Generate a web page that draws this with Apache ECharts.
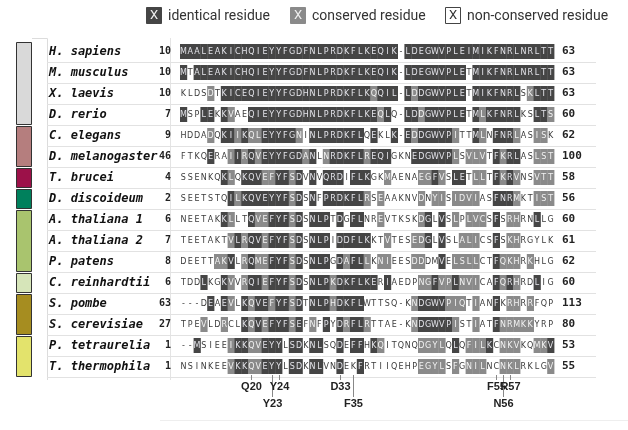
<!DOCTYPE html>
<html>
<head>
<meta charset="utf-8">
<script src="https://cdn.jsdelivr.net/npm/echarts@6/dist/echarts.min.js"></script>
<style>
  html, body { margin: 0; background: #fff; }
  #chart { width: 628px; height: 430px; }
</style>
</head>
<body>
<div id="chart"></div>
<script>
// alignment data (spaces every 10 residues are only for reading)
const species = ['H. sapiens', 'M. musculus', 'X. laevis', 'D. rerio', 'C. elegans', 'D. melanogaster',
  'T. brucei', 'D. discoideum', 'A. thaliana 1', 'A. thaliana 2', 'P. patens', 'C. reinhardtii',
  'S. pombe', 'S. cerevisiae', 'P. tetraurelia', 'T. thermophila']
const startNum = [10, 10, 10, 7, 9, 46, 4, 2, 6, 7, 8, 6, 63, 27, 1, 1]
const endNum = [63, 63, 63, 60, 62, 100, 58, 56, 60, 61, 62, 60, 113, 80, 53, 55]
const sequences = [
  'MAALEAKICH QIEYYFGDFN LPRDKFLKEQ IK-LDEGWVP LEIMIKFNRL NRLTT',
  'MTALEAKICH QIEYYFGDFN LPRDKFLKEQ IK-LDEGWVP LETMIKFNRL NRLTT',
  'KLDSDTKICE QIEYYFGDHN LPRDKFLKQQ IL-LDDGWVP LETMIKFNRL SKLTT',
  'MSPLEKKVAE QIEYYFGDHN LPRDKFLKEQ LQ-LDDGWVP LETMLKFNRL KSLTS',
  'HDDADQKIIK QLEYYFGNIN LPRDKFLQEK LK-EDDGWVP ITTMLNFNRL ASISK',
  'FTKQERAIIR QVEYYFGDAN LNRDKFLREQ IGKNEDGWVP LSVLVTFKRL ASLST',
  'SSENKQKLQK QVEFYFSDVN VQRDIFLKGK MAENAEGFVS LETLLTFKRV NSVTT',
  'SEETSTQILK QVEYYFSDSN FPRDKFLRSE AAKNVDNYIS IDVIASFNRM KTIST',
  'NEETAKKLLT QVEFYFSDSN LPTDGFLNRE VTKSKDGLVS LPLVCSFSRH RNLLG',
  'TEETAKTVLR QVEFYFSDSN LPIDDFLKKT VTESEDGLVS LALICSFSKH RGYLK',
  'DEETTAKVLR QMEFYFSDSN LPGDAFLLKN IEESDDDMVE LSLLCTFQKH RKHLG',
  'TDDLKGKVVR QIEFYFSDSN LPKDKFLKER IAEDPNGFVP LNVICAFQRH RDLIG',
  '---DEAEVLK QVEFYFSDTN LPHDKFLWTT SQ-KNDGWVP IQTIANFKRH RRFQP',
  'TPEVLDRCLK QVEFYFSEFN FPYDRFLRTT AE-KNDGWVP ISTIATFNRM KKYRP',
  '--MSIEEIKK QVEYYLSDKN LSQDEFFHKQ ITQNQDGYLQ LQFILKCNKV KQMKV',
  'NSINKEEVKK QVEYYLSDKN LVNDEKFRTI IQEHPEGYLS FGNILNCNKL RKLGV'
]
// 2 = identical, 1 = conserved, 0 = non-conserved
const shading = [
  '2222222222 2222222222 2222222222 2202222222 2222222222 22222',
  '2022222222 2222222222 2222222222 2202222222 2202222222 22222',
  '0000102222 2222222222 2222222212 2202122222 2202222222 01222',
  '2002202100 2222222222 2222222221 2002212222 2202122222 00221',
  '0000102212 1122222102 2222222020 0202122222 1002102221 00110',
  '0000200121 2122222212 0122222122 2000222222 1011102122 00111',
  '0000002102 2211221202 0222022200 1000011210 2201102121 00111',
  '0000000212 2222221202 0222222101 0000010110 1111002221 00111',
  '0000002100 2112221202 2202022001 0000012020 1011102011 00200',
  '0000000121 2212221202 2202222200 1000112020 0111002011 00000',
  '0000011201 2112221202 2202122101 1000110020 1111002111 01000',
  '0002002101 2212221202 2212222220 2000011211 2111002121 00200',
  '0000202102 1221221202 2212222000 0000122221 1101002011 01000',
  '0001001002 1212221201 0202122100 0000122222 1001002111 11000',
  '0020000122 1122202202 2002022021 0000011110 2011120111 00112',
  '0000000122 1122202202 2002002000 0000011110 1011100111 00001'
]
const groupRows = [[0, 3], [4, 5], [6, 6], [7, 7], [8, 10], [11, 11], [12, 13], [14, 15]]
const groupColors = ['#d9d9d9', '#b57e7e', '#9c1149', '#00805c', '#a9c46e', '#d6e5b9', '#a68d20', '#e3e36c']
const markerLabels = ['Q20', 'Y23', 'Y24', 'D33', 'F35', 'F55', 'N56', 'R57']
const markerCols = [10, 13, 14, 23, 25, 46, 47, 48]
const markerLevels = [0, 1, 0, 0, 1, 0, 1, 0]
const legendLabels = ['identical residue', 'conserved residue', 'non-conserved residue']
const legendX = [146, 290, 445]

const shadeFill = ['#fff', '#8a8a8a', '#454545']
const shadeText = ['#3a3a3a', '#f2f2f2', '#e4e4ea']

const nCols = sequences[0].replace(/ /g, '').length
const colIdx = Array.from({ length: nCols }, (_, i) => i)

const cells = []
sequences.forEach((seq, r) => {
  const s = seq.replace(/ /g, '')
  const sh = shading[r].replace(/ /g, '')
  for (let c = 0; c < s.length; c++) cells.push([c, r, +sh[c], s[c]])
})

// legend: a boxed X for each shading level
const legendGraphic = []
legendLabels.forEach((t, i) => {
  const lv = 2 - i
  const x = legendX[i]
  legendGraphic.push(
    { type: 'rect', shape: { x: x + 0.5, y: 7.5, width: 15, height: 16 }, style: { fill: shadeFill[lv], stroke: lv === 0 ? '#444' : shadeFill[lv], lineWidth: 1 } },
    { type: 'text', style: { x: x + 8, y: 16, text: 'X', align: 'center', verticalAlign: 'middle', fill: lv === 0 ? '#333' : '#f0f0f0', font: '13px Roboto' } },
    { type: 'text', style: { x: x + 22, y: 16, text: t, verticalAlign: 'middle', fill: '#333', font: '14px Roboto' } }
  )
})
// faint frame lines of the table
legendGraphic.push(
  { type: 'polyline', shape: { points: [[32, 38.5], [47.5, 38.5], [47.5, 380]] }, style: { stroke: '#dcdcdc', fill: null, lineWidth: 1 } },
  { type: 'line', shape: { x1: 170.5, y1: 38, x2: 170.5, y2: 380 }, style: { stroke: '#e4e4e4', lineWidth: 1 } },
  { type: 'line', shape: { x1: 160, y1: 420.5, x2: 628, y2: 420.5 }, style: { stroke: '#eeeeee', lineWidth: 1 } }
)

const chart = echarts.init(document.getElementById('chart'))

const option = {
  animation: false,
  graphic: legendGraphic,
  grid: [
    { left: 180, top: 41, width: 374, height: 336 },
    { left: 16, top: 41, width: 15, height: 336 }
  ],
  xAxis: [
    { type: 'category', data: colIdx, gridIndex: 0, show: false },
    { type: 'value', gridIndex: 1, min: 0, max: 1, show: false }
  ],
  yAxis: [
    {
      type: 'category', data: species, gridIndex: 0, inverse: true,
      axisLine: { show: false }, axisTick: { show: false },
      axisLabel: {
        margin: 9,
        formatter: (v, i) => `{n|${v}}{s|${startNum[i]}}`,
        rich: {
          n: { width: 110, align: 'left', fontFamily: 'DejaVu Sans Mono', fontWeight: 'bold', fontStyle: 'italic', fontSize: 12, color: '#111' },
          s: { width: 12, align: 'right', fontFamily: 'DejaVu Sans Mono', fontWeight: 'bold', fontSize: 10, color: '#222' }
        }
      }
    },
    {
      type: 'category', data: endNum, gridIndex: 0, inverse: true, position: 'right',
      axisLine: { show: false }, axisTick: { show: false },
      axisLabel: { margin: 8, fontFamily: 'DejaVu Sans Mono', fontWeight: 'bold', fontSize: 11, color: '#222' }
    },
    { type: 'category', data: species, gridIndex: 1, inverse: true, show: false }
  ],
  series: [
    {
      // light row separators
      type: 'custom', xAxisIndex: 0, yAxisIndex: 0, clip: false, silent: true, z: 1,
      data: species.map((_, r) => [0, r]),
      renderItem: (params, api) => {
        const p = api.coord([0, api.value(1)])
        const h = api.size([1, 1])[1]
        const y = Math.round(p[1] + h / 2) + 0.5
        return { type: 'line', shape: { x1: 47, y1: y, x2: 596, y2: y }, style: { stroke: '#e2e2e2', lineWidth: 1 } }
      }
    },
    {
      type: 'custom', xAxisIndex: 0, yAxisIndex: 0, clip: false, silent: true, z: 2,
      data: cells,
      renderItem: (params, api) => {
        const d = cells[params.dataIndex]
        const p = api.coord([d[0], d[1]])
        const w = api.size([1, 1])[0]
        const h = 15
        const children = []
        if (d[2] > 0) {
          children.push({ type: 'rect', shape: { x: p[0] - w / 2, y: p[1] - h / 2, width: w + 0.4, height: h }, style: { fill: shadeFill[d[2]] } })
        }
        children.push({
          type: 'text',
          style: { x: p[0], y: p[1] + 0.5, text: d[3], align: 'center', verticalAlign: 'middle', fill: shadeText[d[2]], font: '8px "DejaVu Sans"' }
        })
        return { type: 'group', children }
      }
    },
    {
      // residue markers under the alignment
      type: 'custom', xAxisIndex: 0, yAxisIndex: 0, clip: false, silent: true,
      data: markerCols.map((c, i) => [c, markerLevels[i]]),
      renderItem: (params, api) => {
        const i = params.dataIndex
        const x = Math.round(api.coord([markerCols[i], species.length - 1])[0]) + 0.5
        const lv = markerLevels[i]
        const y0 = 375
        const y1 = lv ? 397 : 380
        return {
          type: 'group',
          children: [
            { type: 'line', shape: { x1: x, y1: y0, x2: x, y2: y1 }, style: { stroke: '#888', lineWidth: 1 } },
            { type: 'text', style: { x: x, y: y1 + 7, text: markerLabels[i], align: 'center', verticalAlign: 'middle', fill: '#222', font: 'bold 11px "Liberation Sans"' } }
          ]
        }
      }
    },
    {
      // taxonomic group boxes
      type: 'custom', xAxisIndex: 1, yAxisIndex: 2, clip: false, silent: true,
      data: groupRows.map((g, i) => [g[0], g[1], i]),
      renderItem: (params, api) => {
        const g = groupRows[params.dataIndex]
        const h = api.size([0, 1])[1]
        const top = api.coord([0, g[0]])[1] - h / 2 + 1
        const bot = api.coord([0, g[1]])[1] + h / 2 - 1
        const left = api.coord([0, 0])[0]
        const right = api.coord([1, 0])[0]
        return {
          type: 'rect',
          shape: { x: left + 0.5, y: Math.round(top) + 0.5, width: right - left, height: Math.round(bot - top) },
          style: { fill: groupColors[params.dataIndex], stroke: '#333', lineWidth: 1 }
        }
      }
    }
  ]
}
chart.setOption(option)
</script>
</body>
</html>
